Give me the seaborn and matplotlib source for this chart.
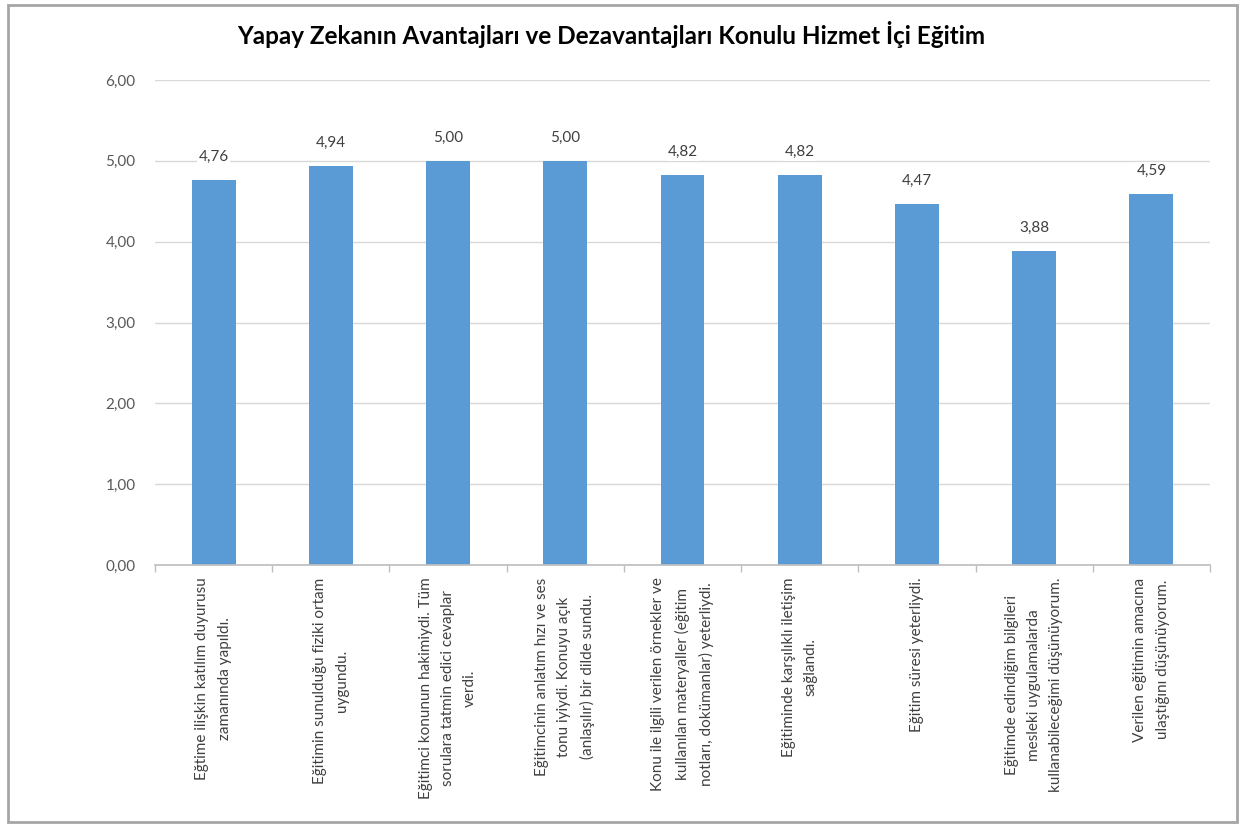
import matplotlib
matplotlib.use("Agg")
import matplotlib.pyplot as plt
import seaborn as sns
import pandas as pd
import numpy as np
from matplotlib.patches import Rectangle

categories = [
    "Eğtime ilişkin katılım duyurusu\nzamanında yapıldı.",
    "Eğitimin sunulduğu fiziki ortam\nuygundu.",
    "Eğitimci konunun hakimiydi. Tüm\nsorulara tatmin edici cevaplar\nverdi.",
    "Eğitimcinin anlatım hızı ve ses\ntonu iyiydi. Konuyu açık\n(anlaşılır) bir dilde sundu.",
    "Konu ile ilgili verilen örnekler ve\nkullanılan materyaller (eğitim\nnotları, dokümanlar) yeterliydi.",
    "Eğitiminde karşılıklı iletişim\nsağlandı.",
    "Eğitim süresi yeterliydi.",
    "Eğitimde edindiğim bilgileri\nmesleki uygulamalarda\nkullanabileceğimi düşünüyorum.",
    "Verilen eğitimin amacına\nulaştığını düşünüyorum.",
]
values = [4.76, 4.94, 5.00, 5.00, 4.82, 4.82, 4.47, 3.88, 4.59]
yticks = [0, 1, 2, 3, 4, 5, 6]
title = "Yapay Zekanın Avantajları ve Dezavantajları Konulu Hizmet İçi Eğitim"

sns.set_theme(style="white")
plt.rcParams['font.family'] = ['Lato', 'DejaVu Sans']

df = pd.DataFrame({"cat": categories, "val": values})

fig = plt.figure(figsize=(12.48, 8.31), dpi=100)
ax = fig.add_axes([155/1248, 1 - 565/831, (1210-155)/1248, (565-80)/831])

sns.barplot(data=df, x="cat", y="val", color="#5B9BD5", width=0.375, ax=ax,
            saturation=1, edgecolor="none")

ax.set_ylim(0, 6)
ax.set_xlim(-0.5, len(categories) - 0.5)
ax.set_yticks(yticks)
ax.set_yticklabels([f"{t:.2f}".replace(".", ",") for t in yticks],
                   fontsize=11, color="#595959")
ax.yaxis.grid(True, color="#D9D9D9", linewidth=1)
ax.set_axisbelow(True)
for s in ["top", "right", "left"]:
    ax.spines[s].set_visible(False)
ax.spines["bottom"].set_color("#BFBFBF")
ax.tick_params(axis="y", length=0, pad=14)
ax.set_xticks(range(len(categories)))
ax.set_xticklabels(categories, rotation=90, fontsize=11, color="#404040",
                   ha="center", va="top", multialignment="center",
                   linespacing=1.75)
ax.tick_params(axis="x", length=0, pad=9)
ax.set_xticks(np.arange(-0.5, len(categories), 1), minor=True)
ax.tick_params(axis="x", which="minor", length=5, color="#BFBFBF", bottom=True)
ax.set_xlabel("")
ax.set_ylabel("")

for i, v in enumerate(values):
    ax.text(i, v + 0.2, f"{v:.2f}".replace(".", ","), ha="center", va="bottom",
            fontsize=11, color="#404040",
            bbox=dict(facecolor="white", edgecolor="none", pad=1))

fig.text(0.49, 1 - 35/831, title, ha="center", va="center", fontsize=17.5,
         fontweight="bold", color="#000000")

fig.patches.append(Rectangle((8/1248, 1 - 822/831), 1229/1248, 817/831,
                             transform=fig.transFigure, fill=False,
                             edgecolor="#A6A6A6", linewidth=2))

fig.savefig("out.png", dpi=100)
